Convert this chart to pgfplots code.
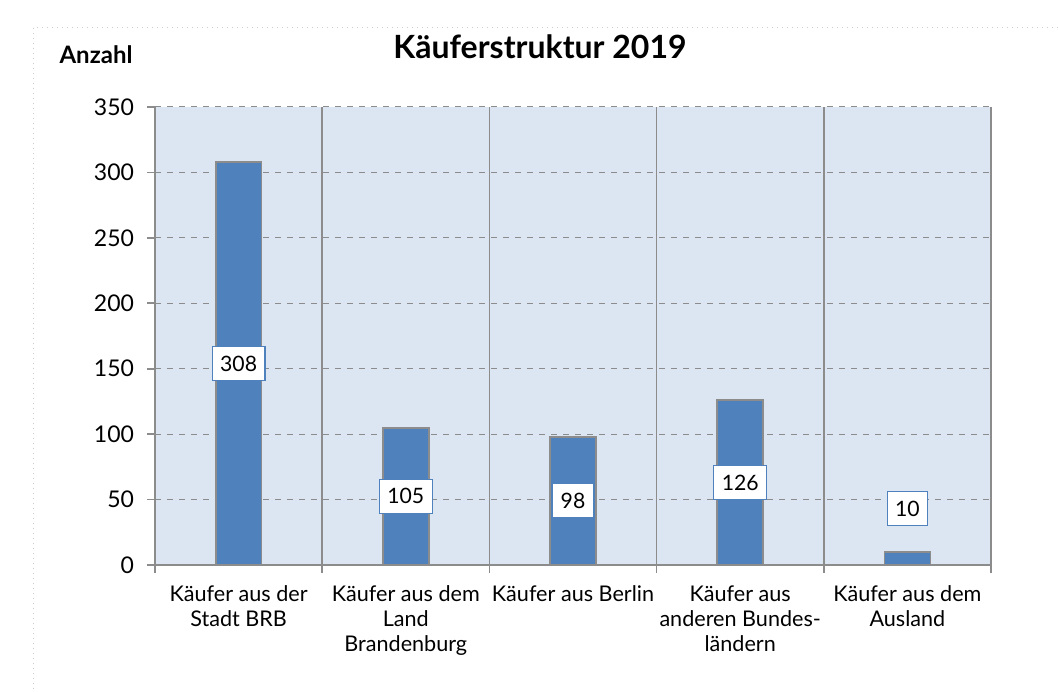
\documentclass[border=0pt]{standalone}
\usepackage{fontspec}
\setmainfont{Lato}
\usepackage{pgfplots}
\pgfplotsset{compat=1.18}
\definecolor{barblue}{HTML}{4F81BD}
\definecolor{bgblue}{HTML}{DCE6F2}
\definecolor{gridgray}{HTML}{8C8C8C}
\begin{document}
\begin{tikzpicture}[x=0.5pt,y=0.5pt]
\useasboundingbox (0,0) rectangle (1058,691);
\draw[gray!40, dotted, line width=0.5pt] (33,663) rectangle (1075,-20);
\node[font=\bfseries\fontsize{16}{18}\selectfont] at (540,644) {Käuferstruktur 2019};
\node[font=\bfseries\fontsize{12}{14}\selectfont] at (96,636) {Anzahl};
\begin{axis}[
  at={(155pt*0.5,126pt*0.5)}, anchor=south west,
  scale only axis, width=418pt, height=229pt,
  xmin=-0.5, xmax=4.5, ymin=0, ymax=350,
  ytick={0,50,...,350},
  xtick={0,1,2,3,4},
  xticklabels={{Käufer aus der\\Stadt BRB},{Käufer aus dem\\Land\\Brandenburg},{Käufer aus Berlin},{Käufer aus\\anderen Bundes-\\ländern},{Käufer aus dem\\Ausland}},
  minor xtick={-0.5,0.5,1.5,2.5,3.5,4.5},
  xminorgrids, ymajorgrids,
  minor x grid style={gridgray, line width=0.8pt},
  major y grid style={gridgray, dashed, line width=0.5pt},
  axis x line*=bottom, axis y line*=left,
  axis line style={gridgray, line width=0.8pt, -},
  x tick style={draw=none},
  minor x tick style={draw=gridgray, line width=0.8pt},
  y tick style={gridgray, line width=0.8pt},
  tick align=outside,
  major tick length=4pt, minor tick length=4pt,
  axis background/.style={fill=bgblue},
  xticklabel style={align=center, font=\fontsize{10.8}{12.5}\selectfont, text depth=0pt, yshift=-3pt},
  yticklabel style={font=\fontsize{11.5}{13}\selectfont, xshift=-3pt},
  /pgf/number format/assume math mode=true,
  clip=false,
]
\addplot[ybar, bar width=0.275, fill=barblue, draw=gridgray, line width=0.9pt]
  coordinates {(0,308) (1,105) (2,98) (3,126) (4,10)};
\addplot[draw=none, mark=none, nodes near coords, point meta=explicit symbolic,
  every node near coord/.style={anchor=center, fill=white, draw=barblue, line width=0.6pt,
    font=\fontsize{10.6}{12}\selectfont, minimum height=17pt, inner xsep=4pt, inner ysep=0pt}]
  coordinates {(0,154)[308] (1,52.5)[105] (2,49)[98] (3,63)[126] (4,43)[10]};
\end{axis}
\end{tikzpicture}
\end{document}
